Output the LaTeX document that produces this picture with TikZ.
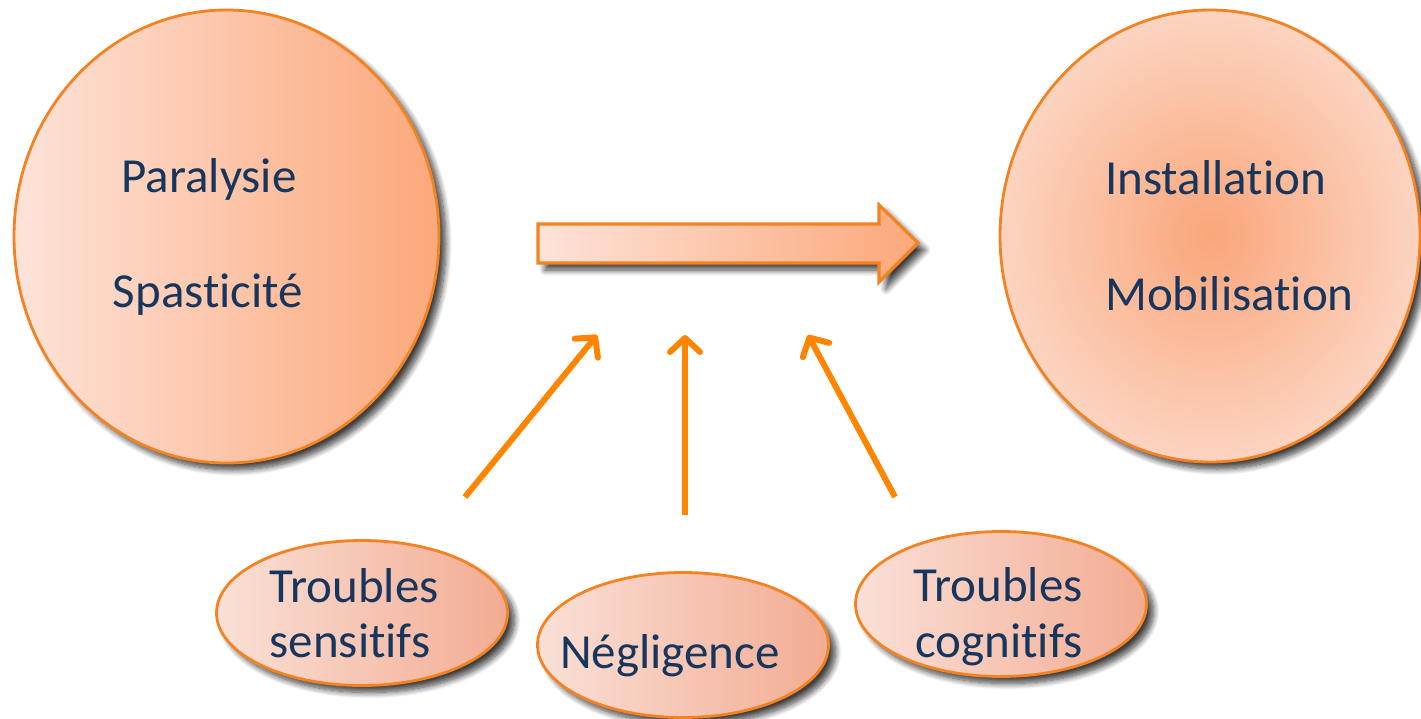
\documentclass[tikz,border=0pt]{standalone}
\usepackage{fontspec}
\setmainfont{Carlito}[Ligatures={NoCommon}]
\usetikzlibrary{shapes.geometric,shadows.blur,arrows.meta}
\definecolor{bord}{RGB}{245,130,32}
\definecolor{txt}{RGB}{23,54,93}
\definecolor{lightL}{RGB}{253,227,217}
\definecolor{darkR}{RGB}{252,168,122}
\definecolor{smallL}{RGB}{250,224,215}
\definecolor{smallR}{RGB}{243,172,146}
\definecolor{ballIn}{RGB}{250,166,122}
\definecolor{ballOut}{RGB}{252,212,193}
\definecolor{arrowc}{RGB}{255,133,0}
\tikzset{
  shad/.style={blur shadow={shadow xshift=7pt, shadow yshift=-7pt, shadow blur steps=10, shadow blur radius=6pt, shadow opacity=75}},
  bigL/.style={ellipse, draw=bord, line width=2.8pt, inner sep=0pt, left color=lightL, right color=darkR, shad},
  bigR/.style={ellipse, draw=bord, line width=2.8pt, inner sep=0pt, inner color=ballIn, outer color=ballOut, shad},
  small/.style={ellipse, draw=bord, line width=2.8pt, inner sep=0pt, left color=smallL, right color=smallR, shad,
     minimum width=291pt, minimum height=145pt},
  lab/.style={text=txt, font=\fontsize{49}{56}\selectfont, inner sep=0pt},
  conn/.style={draw=arrowc, line width=6pt, -{Straight Barb[length=14pt, width=30pt, line cap=round, line join=round]}},
  flowarrow/.style={draw=bord, line width=3.2pt, line join=miter, left color=lightL, right color=darkR, shad}
}
\begin{document}
\begin{tikzpicture}[x=1pt,y=-1pt]
\useasboundingbox (0,0) rectangle (1421,719);
% big circles
\node[bigL, minimum width=425pt, minimum height=453pt] (para) at (226.5,236.5) {};
\node[bigR, minimum width=420pt, minimum height=452pt] (inst) at (1210,236) {};
\node[lab, anchor=base] (t1) at (209,193) {Paralysie};
\node[lab, anchor=base] (t2) at (208,308) {Spasticité};
\node[lab, anchor=base west] (t3) at (1105,195) {Installation};
\node[lab, anchor=base west] (t4) at (1105,310) {Mobilisation};
% block arrow
\path[flowarrow] (538,224) -- (879,224) -- (879,205) -- (918,243) -- (879,282) -- (879,263) -- (538,263) -- cycle;
% small ellipses
\node[small] (sens) at (362,613) {};
\node[small] (negl) at (683,645) {};
\node[small] (cogn) at (1001,604) {};
\node[lab, anchor=base] (s1) at (354,602) {Troubles};
\node[lab, anchor=base] (s2) at (350,657) {sensitifs};
\node[lab, anchor=base] (n1) at (670,668) {Négligence};
\node[lab, anchor=base] (c1) at (998,601) {Troubles};
\node[lab, anchor=base] (c2) at (999,657) {cognitifs};
% connectors
\coordinate (a1s) at (465,497);
\coordinate (a1e) at (597,335);
\coordinate (a2s) at (685,515);
\coordinate (a2e) at (685,335);
\coordinate (a3s) at (895,497);
\coordinate (a3e) at (808,335);
\draw[conn] (a1s) -- (a1e);
\draw[conn] (a2s) -- (a2e);
\draw[conn] (a3s) -- (a3e);
\end{tikzpicture}
\end{document}
